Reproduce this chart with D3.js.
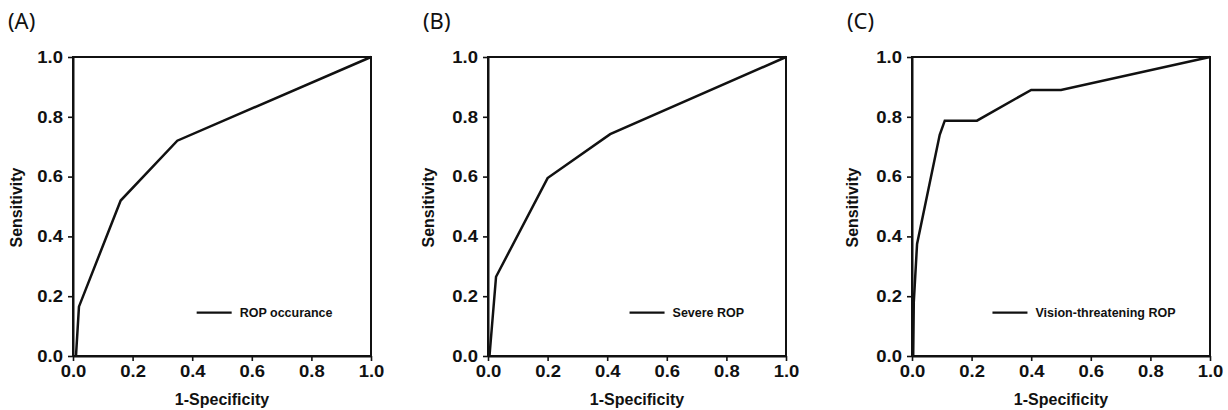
<!DOCTYPE html>
<html>
<head>
<meta charset="utf-8">
<script src="https://cdn.jsdelivr.net/npm/d3@7"></script>
<style>
  body { margin: 0; background: #fff; }
  svg { display: block; }
</style>
</head>
<body>
<div id="chart"></div>
<script>
// ROC curves (x = 1-specificity, y = sensitivity)
const panelLabels = ["(A)", "(B)", "(C)"];
const seriesNames = ["ROP occurance", "Severe ROP", "Vision-threatening ROP"];

const rocA_fpr  = [0.01, 0.02, 0.16, 0.35, 1.0];
const rocA_sens = [0.0, 0.165, 0.52, 0.72, 1.0];

const rocB_fpr  = [0.005, 0.027, 0.2, 0.41, 1.0];
const rocB_sens = [0.0, 0.265, 0.595, 0.742, 1.0];

const rocC_fpr  = [0.004, 0.006, 0.017, 0.093, 0.11, 0.218, 0.4, 0.5, 1.0];
const rocC_sens = [0.0, 0.18, 0.375, 0.74, 0.787, 0.787, 0.89, 0.89, 1.0];

const tickValues = [0, 0.2, 0.4, 0.6, 0.8, 1.0];

// legend line start, in x-axis units, per panel
const legendX = [0.415, 0.475, 0.27];
const legendY = 0.145;

const width = 1228, height = 410;
const panels = [
  { left: 73,  fpr: rocA_fpr, sens: rocA_sens, ylab: 51.5 },
  { left: 488, fpr: rocB_fpr, sens: rocB_sens, ylab: 54 },
  { left: 912, fpr: rocC_fpr, sens: rocC_sens, ylab: 54 }
];
const plotTop = 57, plotBottom = 356, plotW = 298;

const svg = d3.select("#chart").append("svg")
  .attr("width", width)
  .attr("height", height);

const fmt = d3.format(".1f");
const sx = 1.12; // tick labels in the source are slightly wide

panels.forEach((p, i) => {
  const x = d3.scaleLinear().domain([0, 1]).range([p.left, p.left + plotW]);
  const y = d3.scaleLinear().domain([0, 1]).range([plotBottom, plotTop]);
  const g = svg.append("g");

  // panel letter
  g.append("text")
    .attr("x", p.left - 65)
    .attr("y", 29)
    .style("font-family", "'Noto Sans', sans-serif")
    .style("font-size", "22px")
    .attr("fill", "#111")
    .text(panelLabels[i]);

  // frame (top / right)
  g.append("rect")
    .attr("x", x(0)).attr("y", y(1))
    .attr("width", x(1) - x(0)).attr("height", y(0) - y(1))
    .attr("fill", "none")
    .attr("stroke", "#111")
    .attr("stroke-width", 2);

  const xAxis = g.append("g")
    .attr("transform", `translate(0,${plotBottom})`)
    .call(d3.axisBottom(x).tickValues(tickValues).tickFormat(fmt).tickSize(5).tickSizeOuter(0).tickPadding(4));
  const yAxis = g.append("g")
    .attr("transform", `translate(${p.left},0)`)
    .call(d3.axisLeft(y).tickValues(tickValues).tickFormat(fmt).tickSize(5).tickSizeOuter(0).tickPadding(5));

  [xAxis, yAxis].forEach(ax => {
    ax.select(".domain").attr("stroke", "#111").attr("stroke-width", 2);
    ax.selectAll(".tick line").attr("stroke", "#111").attr("stroke-width", 1.6);
    ax.selectAll(".tick text")
      .attr("fill", "#111")
      .style("font-family", "'Liberation Sans', Arial, sans-serif")
      .style("font-weight", "bold")
      .style("font-size", "16.5px");
  });
  xAxis.selectAll(".tick text").attr("transform", `scale(${sx},1)`);
  yAxis.selectAll(".tick text")
    .attr("x", -10 / sx)
    .attr("transform", `scale(${sx},1)`);

  // axis titles
  g.append("text")
    .attr("x", (x(0) + x(1)) / 2)
    .attr("y", 405)
    .attr("text-anchor", "middle")
    .style("font-family", "'Liberation Sans', Arial, sans-serif")
    .style("font-weight", "bold")
    .style("font-size", "16px")
    .attr("fill", "#111")
    .text("1-Specificity");

  g.append("text")
    .attr("transform", `translate(${p.left - p.ylab},${(plotTop + plotBottom) / 2 + 1}) rotate(-90)`)
    .attr("text-anchor", "middle")
    .style("font-family", "'Liberation Sans', Arial, sans-serif")
    .style("font-weight", "bold")
    .style("font-size", "16px")
    .attr("fill", "#111")
    .text("Sensitivity");

  // ROC line
  const pts = p.fpr.map((v, k) => [v, p.sens[k]]);
  g.append("path")
    .datum(pts)
    .attr("fill", "none")
    .attr("stroke", "#111")
    .attr("stroke-width", 2.5)
    .attr("stroke-linejoin", "miter")
    .attr("d", d3.line().x(d => x(d[0])).y(d => y(d[1])));

  // legend
  const lx = x(legendX[i]);
  const ly = y(legendY);
  g.append("line")
    .attr("x1", lx).attr("x2", lx + 35)
    .attr("y1", ly).attr("y2", ly)
    .attr("stroke", "#111")
    .attr("stroke-width", 2.2);
  g.append("text")
    .attr("x", lx + 43)
    .attr("y", ly + 4.5)
    .style("font-family", "'Liberation Sans', Arial, sans-serif")
    .style("font-weight", "bold")
    .style("font-size", "12.5px")
    .attr("fill", "#111")
    .text(seriesNames[i]);
});
</script>
</body>
</html>
